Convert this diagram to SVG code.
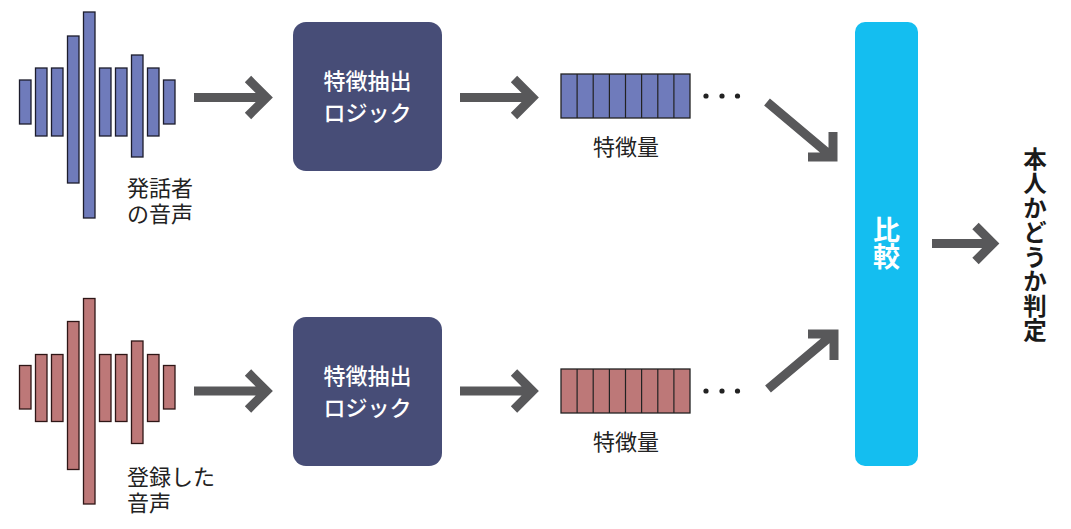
<svg xmlns="http://www.w3.org/2000/svg" width="1071" height="529" viewBox="0 0 1071 529">
<style>
.bb{fill:#6f7bbb;stroke:#1c1c2c;stroke-width:1.3}
.br{fill:#bd7878;stroke:#2e1616;stroke-width:1.3}
.lbl{font-family:"Noto Sans CJK JP","Noto Sans",sans-serif;font-size:22px;fill:#222}
.box{fill:#474d77}
.bt{font-family:"Noto Sans CJK JP","Noto Sans",sans-serif;font-size:22px;fill:#fff;text-anchor:middle;font-weight:500}
.arr{fill:none;stroke:#58585a;stroke-width:9;stroke-linejoin:miter;stroke-miterlimit:10}
.dot{fill:#222}
.cell{stroke:#222;stroke-width:1.2}
</style>
<rect width="1071" height="529" fill="#fff"/>
<g id="voice-speaker">
<rect class="bb" x="19.5" y="80" width="11.5" height="44"/>
<rect class="bb" x="35.5" y="68" width="11.5" height="68"/>
<rect class="bb" x="51.5" y="68" width="11.5" height="68"/>
<rect class="bb" x="67.5" y="36" width="11.5" height="147"/>
<rect class="bb" x="83.5" y="12" width="11.5" height="206"/>
<rect class="bb" x="99.5" y="68" width="11.5" height="68"/>
<rect class="bb" x="115.5" y="68" width="11.5" height="68"/>
<rect class="bb" x="131.5" y="55" width="11.5" height="102"/>
<rect class="bb" x="147.5" y="68" width="11.5" height="68"/>
<rect class="bb" x="163.5" y="80" width="11.5" height="44"/>
<text class="lbl" x="127" y="196">発話者<tspan x="127" y="222">の音声</tspan></text>
</g>
<g id="voice-registered">
<rect class="br" x="19.5" y="365.5" width="11.5" height="43.5"/>
<rect class="br" x="35.5" y="354.5" width="11.5" height="67"/>
<rect class="br" x="51.5" y="354.5" width="11.5" height="67"/>
<rect class="br" x="67.5" y="321.5" width="11.5" height="148"/>
<rect class="br" x="83.5" y="298.5" width="11.5" height="205.5"/>
<rect class="br" x="99.5" y="354.5" width="11.5" height="67"/>
<rect class="br" x="115.5" y="354.5" width="11.5" height="67"/>
<rect class="br" x="131.5" y="341" width="11.5" height="102.5"/>
<rect class="br" x="147.5" y="354.5" width="11.5" height="67"/>
<rect class="br" x="163.5" y="365.5" width="11.5" height="43.5"/>
<text class="lbl" x="127" y="485">登録した<tspan x="127" y="511">音声</tspan></text>
</g>
<g id="extract-top">
<rect class="box" x="293" y="22" width="149" height="149" rx="13"/>
<text class="bt" x="367.5" y="89">特徴抽出</text>
<text class="bt" x="367.5" y="121">ロジック</text>
</g>
<g id="extract-bottom">
<rect class="box" x="293" y="317" width="149" height="149" rx="13"/>
<text class="bt" x="367.5" y="384">特徴抽出</text>
<text class="bt" x="367.5" y="416">ロジック</text>
</g>
<g id="feature-top">
<rect x="561" y="74" width="129" height="44" fill="#6f7bbb" stroke="#222" stroke-width="1.3"/>
<path class="cell" d="M577.1 74V118M593.2 74V118M609.4 74V118M625.5 74V118M641.6 74V118M657.8 74V118M673.9 74V118"/>
<circle class="dot" cx="706" cy="96" r="2.6"/>
<circle class="dot" cx="722" cy="96" r="2.6"/>
<circle class="dot" cx="737.5" cy="96" r="2.6"/>
<text class="lbl" x="626" y="155" text-anchor="middle">特徴量</text>
</g>
<g id="feature-bottom">
<rect x="561" y="369" width="129" height="44" fill="#bd7878" stroke="#222" stroke-width="1.3"/>
<path class="cell" d="M577.1 369V413M593.2 369V413M609.4 369V413M625.5 369V413M641.6 369V413M657.8 369V413M673.9 369V413"/>
<circle class="dot" cx="706" cy="391" r="2.6"/>
<circle class="dot" cx="722" cy="391" r="2.6"/>
<circle class="dot" cx="737.5" cy="391" r="2.6"/>
<text class="lbl" x="626" y="450" text-anchor="middle">特徴量</text>
</g>
<g id="compare">
<rect x="855" y="22" width="63" height="444" rx="10" fill="#14bef0"/>
<text x="886.5" y="216" style="font-family:'Noto Sans CJK JP',sans-serif;font-size:27px;font-weight:bold;fill:#fff;writing-mode:vertical-rl">比較</text>
</g>
<g id="result">
<text x="1035" y="147" style="font-family:'Noto Sans CJK JP',sans-serif;font-size:23.5px;font-weight:bold;fill:#1a1a1a;writing-mode:vertical-rl;letter-spacing:1px">本人かどうか判定</text>
</g>
<g id="connectors">
<path class="arr" d="M194 97.5H266M248 79L266.5 97.5L248 116"/>
<path class="arr" d="M460 97.5H532M514 79L532.5 97.5L514 116"/>
<path class="arr" d="M194 391H266M248 372.5L266.5 391L248 409.5"/>
<path class="arr" d="M460 391H532M514 372.5L532.5 391L514 409.5"/>
<path class="arr" d="M767 102L830 155M808 157H833V132"/>
<path class="arr" d="M768 389L831 336M808 334H834V360"/>
<path class="arr" d="M932 243.5H992M975.5 226L993 243.5L975.5 261"/>
</g>
</svg>
